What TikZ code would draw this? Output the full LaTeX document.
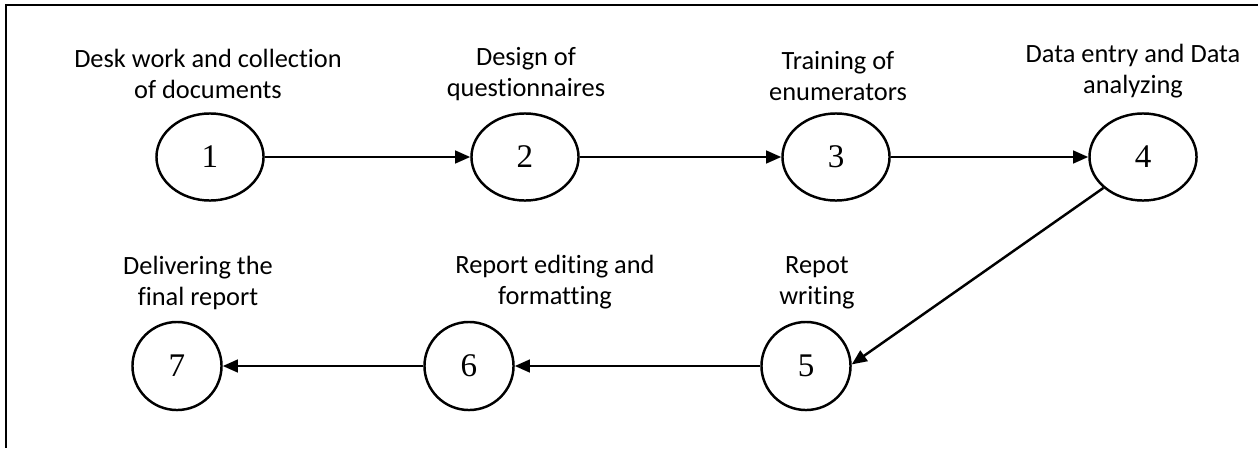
\documentclass[tikz,border=0pt]{standalone}
\usepackage{fontspec}
\setmainfont{Liberation Serif}
\newfontfamily\labelfont[Ligatures=NoCommon]{Carlito}
\usetikzlibrary{shapes.geometric,arrows.meta}

\begin{document}
\begin{tikzpicture}[x=0.01cm, y=-0.01cm, align=center]
    \tikzset{
        n/.style        =   { ellipse
                            , draw=black
                            , line width=0.7pt
                            , inner sep=0pt
                            , minimum width=1.07cm
                            , minimum height=0.87cm
                            , font=\fontsize{9.4}{11}\selectfont
        }
        , nb/.style     =   { n
                            , minimum width=0.89cm
                            , minimum height=0.88cm
        }
        , lbl/.style    =   { inner sep=0pt
                            , font=\labelfont\fontsize{7.5}{8.9}\selectfont
        }
        , arrow/.style  =   { line width=0.7pt
                            , -{Triangle[length=4.3pt,width=3.6pt]}
        }
    }
    \useasboundingbox (0,0) rectangle (1258,448);
    % frame (cut off at right and bottom)
    \draw[line width=0.8pt] (1258,5) -- (6,5) -- (6,448);

    % upper row
    \node(1)[n]  at (210,157) {1};
    \node(2)[n]  at (525,157) {2};
    \node(3)[n]  at (836,157) {3};
    \node(4)[n]  at (1143,157) {4};
    % lower row
    \node(5)[nb] at (806,366) {5};
    \node(6)[nb] at (469,366) {6};
    \node(7)[nb] at (177,366) {7};

    % labels
    \node(l1)[lbl] at (208,74)  {Desk work and collection\\of documents};
    \node(l2)[lbl] at (526,74)  {Design of\\questionnaires};
    \node(l3)[lbl] at (838,76)  {Training of\\enumerators};
    \node(l4)[lbl] at (1133,71) {Data entry and Data\\analyzing};
    \node(l5)[lbl] at (817,283) {Repot\\writing};
    \node(l6)[lbl] at (555,282) {Report editing and\\formatting};
    \node(l7)[lbl] at (198,283) {Delivering the\\final report};

    \draw[arrow] (1) -- (2);
    \draw[arrow] (2) -- (3);
    \draw[arrow] (3) -- (4);
    \draw[arrow] (4.-142) -- (5.2);
    \draw[arrow] (5) -- (6);
    \draw[arrow] (6) -- (7);
\end{tikzpicture}
\end{document}
